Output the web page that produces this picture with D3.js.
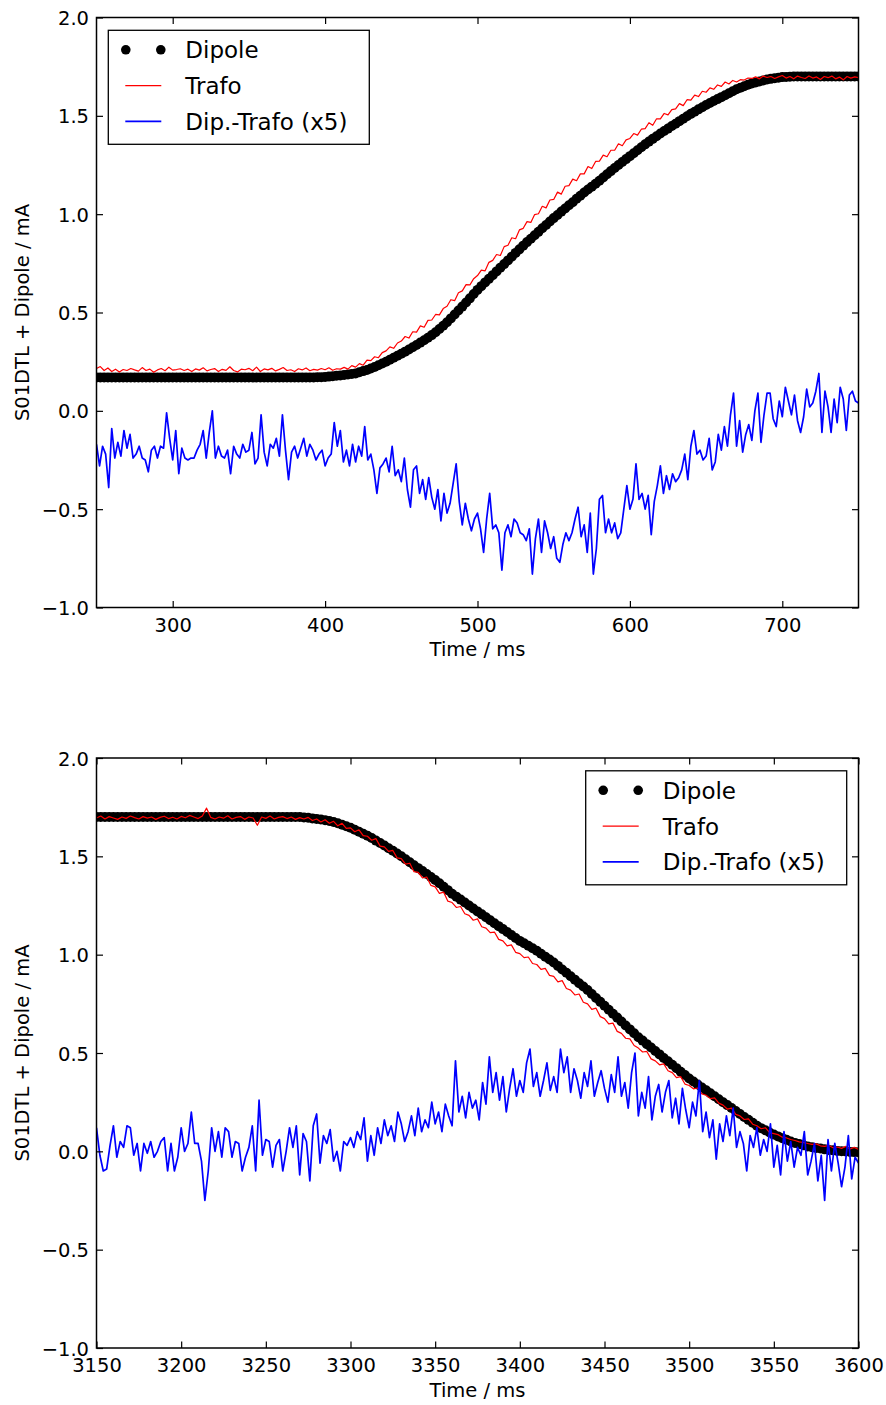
<!DOCTYPE html>
<html><head><meta charset="utf-8">
<script src="https://cdn.jsdelivr.net/npm/d3@7"></script>
<style>html,body{margin:0;padding:0;background:#fff;} text{font-family:"DejaVu Sans",sans-serif;fill:#000;}</style>
</head><body><svg id="c" width="886" height="1405"></svg>
<script>
// ---------- tick labels / categories ----------
const yTicks = [-1.0, -0.5, 0.0, 0.5, 1.0, 1.5, 2.0];
const topXTicks = [300, 400, 500, 600, 700];
const botXTicks = [3150, 3200, 3250, 3300, 3350, 3400, 3450, 3500, 3550, 3600];
const seriesNames = ["Dipole", "Trafo", "Dip.-Trafo (x5)"];
const xLabel = "Time / ms";
const yLabel = "S01DTL + Dipole / mA";

// ---------- top panel (250–750 ms) ----------
const topStart = 250, topEnd = 750;
const topSmoothStep = 2.5; // Dipole & Trafo sampled every 2.5 ms
const topDiffStep = 2;     // Dip.-Trafo sampled every 2 ms
const topDipole = [
0.170,0.170,0.170,0.170,0.170,0.170,0.170,0.170,0.170,0.170,0.170,0.170,0.170,0.170,0.170,0.170,0.170,0.170,0.170,0.170,
0.170,0.170,0.170,0.170,0.170,0.170,0.170,0.170,0.170,0.170,0.170,0.170,0.170,0.170,0.170,0.170,0.170,0.170,0.170,0.170,
0.170,0.170,0.170,0.170,0.170,0.170,0.170,0.170,0.170,0.170,0.170,0.170,0.170,0.170,0.170,0.170,0.170,0.170,0.171,0.171,0.172,
0.174,0.176,0.178,0.180, 0.182,0.185,0.187,0.190, 0.196,0.202,0.208,0.215, 0.223,0.232,0.241,0.250,
0.260,0.270,0.280,0.290, 0.301,0.312,0.323,0.335, 0.347,0.359,0.372,0.385, 0.400,0.416,0.433,0.450,
0.470,0.490,0.510,0.530, 0.551,0.572,0.594,0.615, 0.634,0.653,0.671,0.690, 0.709,0.728,0.746,0.765,
0.784,0.803,0.821,0.840, 0.858,0.875,0.893,0.910, 0.928,0.945,0.963,0.980, 0.996,1.013,1.029,1.045,
1.061,1.078,1.094,1.110, 1.125,1.140,1.155,1.170, 1.186,1.203,1.219,1.235, 1.250,1.265,1.280,1.295,
1.310,1.325,1.340,1.355, 1.369,1.383,1.396,1.410, 1.423,1.435,1.448,1.460, 1.473,1.485,1.498,1.510,
1.521,1.533,1.544,1.555, 1.565,1.575,1.585,1.595, 1.605,1.615,1.625,1.635, 1.643,1.650,1.658,1.665,
1.670,1.675,1.680,1.685, 1.688,1.691,1.694,1.697, 1.698,1.699,1.700,1.700,
1.700,1.700,1.700,1.700,1.700,1.700,1.700,1.700,1.700,1.700,1.700,1.700,1.700,1.700,1.700,1.700
];
const topTrafo = [
0.215,
0.225,0.205,0.218,0.200, 0.212,0.198,0.210,0.205, 0.215,0.208,0.202,0.220, 0.205,0.212,0.196,0.208,
0.215,0.204,0.222,0.207, 0.210,0.214,0.205,0.212, 0.200,0.213,0.207,0.219, 0.203,0.210,0.215,0.200,
0.211,0.206,0.224,0.205, 0.198,0.212,0.209,0.216, 0.204,0.222,0.200,0.213, 0.208,0.216,0.203,0.211,
0.220,0.205,0.209,0.200, 0.214,0.208,0.218,0.204, 0.211,0.207,0.215,0.209, 0.219,0.206,0.214,0.212,
0.221,0.212,0.230,0.222, 0.240,0.232,0.258,0.255, 0.275,0.270,0.296,0.305, 0.325,0.318,0.345,0.355,
0.378,0.370,0.402,0.400, 0.432,0.425,0.460,0.462, 0.490,0.488,0.520,0.532, 0.565,0.560,0.600,0.610,
0.642,0.640,0.672,0.688, 0.715,0.712,0.755,0.765, 0.795,0.790,0.835,0.842, 0.880,0.875,0.920,0.928,
0.962,0.958,0.998,1.002, 1.040,1.032,1.072,1.075, 1.112,1.102,1.142,1.145, 1.178,1.170,1.205,1.205,
1.242,1.232,1.268,1.270, 1.300,1.292,1.325,1.325, 1.358,1.348,1.378,1.385, 1.410,1.402,1.432,1.435,
1.465,1.452,1.485,1.485, 1.512,1.505,1.532,1.535, 1.562,1.552,1.582,1.580, 1.605,1.598,1.625,1.620,
1.642,1.635,1.657,1.650, 1.672,1.662,1.680,1.672, 1.684,1.682,1.692,1.690, 1.698,1.688,1.702,1.695,
1.700,1.690,1.698,1.705, 1.692,1.700,1.688,1.702, 1.695,1.690,1.703,1.692, 1.698,1.685,1.700,1.694,
1.702,1.688,1.697,1.683, 1.700,1.692,1.698,1.694
];
const topDiff = [
-0.17,-0.28,-0.18,-0.22,-0.39,-0.09,-0.24,-0.16,-0.23,-0.10,
-0.19,-0.12,-0.24,-0.22,-0.18,-0.24,-0.25,-0.31,-0.20,-0.18,
-0.24,-0.18,-0.19,-0.01,-0.14,-0.25,-0.10,-0.32,-0.19,-0.24,
-0.25,-0.24,-0.24,-0.20,-0.17,-0.10,-0.24,-0.11,0.00,-0.24,
-0.18,-0.23,-0.24,-0.20,-0.32,-0.18,-0.22,-0.24,-0.17,-0.21,
-0.20,-0.11,-0.27,-0.24,-0.02,-0.21,-0.28,-0.17,-0.19,-0.14,
-0.23,-0.02,-0.20,-0.35,-0.21,-0.18,-0.24,-0.19,-0.14,-0.23,
-0.17,-0.20,-0.25,-0.22,-0.20,-0.28,-0.24,-0.22,-0.06,-0.18,
-0.10,-0.26,-0.20,-0.28,-0.17,-0.26,-0.18,-0.23,-0.08,-0.25,
-0.22,-0.30,-0.42,-0.29,-0.27,-0.24,-0.31,-0.18,-0.33,-0.30,
-0.36,-0.24,-0.40,-0.49,-0.30,-0.28,-0.42,-0.35,-0.45,-0.34,
-0.44,-0.50,-0.40,-0.56,-0.42,-0.52,-0.47,-0.37,-0.27,-0.46,
-0.58,-0.47,-0.55,-0.61,-0.55,-0.52,-0.60,-0.72,-0.55,-0.42,
-0.60,-0.58,-0.62,-0.81,-0.62,-0.58,-0.64,-0.55,-0.57,-0.62,
-0.63,-0.66,-0.60,-0.83,-0.65,-0.55,-0.72,-0.56,-0.62,-0.70,
-0.64,-0.75,-0.77,-0.68,-0.62,-0.66,-0.62,-0.55,-0.49,-0.64,
-0.58,-0.72,-0.52,-0.83,-0.70,-0.45,-0.43,-0.62,-0.55,-0.62,
-0.57,-0.65,-0.62,-0.50,-0.38,-0.50,-0.45,-0.27,-0.45,-0.42,
-0.50,-0.43,-0.63,-0.46,-0.38,-0.28,-0.42,-0.33,-0.40,-0.32,
-0.36,-0.34,-0.30,-0.22,-0.35,-0.18,-0.10,-0.22,-0.20,-0.25,
-0.23,-0.14,-0.30,-0.26,-0.12,-0.20,-0.08,-0.18,-0.02,0.09,
-0.18,-0.05,-0.21,-0.12,-0.07,-0.15,0.00,0.09,-0.16,-0.02,
0.09,0.09,-0.04,-0.08,0.05,-0.03,0.12,0.05,-0.02,0.08,
-0.05,-0.11,-0.03,0.11,0.02,0.04,0.10,0.19,-0.11,0.10,
0.02,-0.11,0.06,-0.06,0.12,0.06,-0.10,0.08,0.10,0.05,0.04
];

// ---------- bottom panel (3150–3600 ms) ----------
const botStart = 3150, botEnd = 3600;
const botSmoothStep = 2.5;
const botDiffStep = 2;
const botDipole = [
1.700,1.700,1.700,1.700,1.700,1.700,1.700,1.700,1.700,1.700,1.700,1.700,1.700,1.700,1.700,1.700,1.700,
1.700,1.700,1.700,1.700,1.700,1.700,1.700,1.700,1.700,1.700,1.700,1.700,1.700,1.700,1.700,1.700,
1.700,1.700,1.700,1.700,1.700,1.700,1.700,1.700,1.700,1.700,1.700,1.700,1.700,1.700,1.700,1.700,
1.698,1.696,1.693,1.690, 1.687,1.684,1.680,1.675, 1.668,1.661,1.653,1.645, 1.635,1.625,1.615,1.605,
1.593,1.580,1.568,1.555, 1.541,1.528,1.514,1.500, 1.485,1.470,1.455,1.440, 1.425,1.410,1.395,1.380,
1.363,1.345,1.328,1.310, 1.295,1.280,1.265,1.250, 1.235,1.220,1.205,1.190, 1.175,1.160,1.145,1.130,
1.115,1.100,1.085,1.070, 1.058,1.045,1.033,1.020, 1.005,0.990,0.975,0.960, 0.943,0.925,0.908,0.890,
0.873,0.855,0.838,0.820, 0.800,0.780,0.760,0.740, 0.720,0.700,0.680,0.660, 0.640,0.620,0.600,0.580,
0.563,0.545,0.528,0.510, 0.493,0.475,0.458,0.440, 0.423,0.405,0.388,0.370, 0.355,0.340,0.325,0.310,
0.295,0.280,0.265,0.250, 0.235,0.220,0.205,0.190, 0.175,0.160,0.145,0.130, 0.118,0.107,0.096,0.085,
0.076,0.067,0.059,0.050, 0.043,0.037,0.031,0.025, 0.021,0.017,0.014,0.010, 0.007,0.005,0.002,0.000,
-0.001,-0.003,-0.004,-0.005
];
const botTrafo = [
1.695,
1.705,1.690,1.702,1.695, 1.688,1.700,1.693,1.705, 1.697,1.690,1.702,1.694, 1.700,1.688,1.698,1.704,
1.692,1.699,1.690,1.703, 1.696,1.708,1.700,1.692, 1.705,1.745,1.698,1.690, 1.700,1.694,1.706,1.690,
1.698,1.702,1.688,1.700, 1.695,1.658,1.700,1.693, 1.705,1.690,1.698,1.702, 1.692,1.700,1.688,1.697,
1.690,1.698,1.682,1.690, 1.675,1.686,1.668,1.678, 1.655,1.668,1.642,1.645, 1.625,1.635,1.605,1.602,
1.582,1.590,1.552,1.548, 1.525,1.530,1.492,1.488, 1.460,1.465,1.422,1.418, 1.390,1.395,1.352,1.345,
1.312,1.318,1.272,1.265, 1.240,1.245,1.208,1.200, 1.175,1.182,1.142,1.135, 1.112,1.115,1.078,1.070,
1.045,1.050,1.012,1.005, 0.985,0.988,0.955,0.950, 0.925,0.930,0.895,0.890, 0.862,0.868,0.828,0.820,
0.795,0.800,0.758,0.750, 0.722,0.728,0.685,0.675, 0.648,0.652,0.610,0.600, 0.575,0.572,0.538,0.525,
0.505,0.508,0.470,0.460, 0.440,0.445,0.410,0.400, 0.375,0.380,0.342,0.335, 0.318,0.322,0.292,0.285,
0.268,0.272,0.245,0.235, 0.215,0.220,0.188,0.180, 0.162,0.165,0.138,0.130, 0.115,0.120,0.095,0.090,
0.085,0.072,0.068,0.060, 0.055,0.048,0.045,0.040, 0.035,0.038,0.028,0.025, 0.030,0.018,0.022,0.015,
0.025,0.012,0.020,0.010
];
const botDiff = [
0.12,-0.02,-0.10,-0.09,0.03,0.13,-0.03,0.05,0.02,0.13,
0.12,-0.02,0.04,-0.10,0.04,-0.01,0.05,-0.03,0.00,0.05,
0.07,-0.10,0.04,-0.10,-0.03,0.12,0.00,0.04,0.20,0.04,
0.04,-0.05,-0.25,-0.10,0.12,0.00,0.10,-0.03,0.12,0.10,
-0.03,0.05,0.04,-0.10,-0.03,0.02,0.13,-0.10,0.26,-0.02,
0.06,0.05,-0.08,0.03,0.06,-0.10,0.00,0.12,0.02,0.13,
-0.12,0.09,0.05,-0.15,0.13,0.19,-0.06,0.08,0.04,0.11,
-0.05,0.00,-0.10,0.05,0.03,0.07,0.02,0.10,0.06,0.17,
-0.05,0.08,-0.02,0.12,0.04,0.16,0.08,0.13,0.05,0.20,
0.14,0.05,0.10,0.18,0.08,0.22,0.10,0.16,0.12,0.25,
0.14,0.20,0.10,0.24,0.18,0.13,0.46,0.20,0.28,0.17,
0.30,0.22,0.26,0.16,0.35,0.24,0.48,0.30,0.40,0.26,
0.38,0.20,0.32,0.42,0.28,0.36,0.30,0.45,0.52,0.33,
0.40,0.28,0.36,0.45,0.31,0.38,0.30,0.52,0.40,0.48,
0.30,0.42,0.36,0.27,0.40,0.33,0.46,0.28,0.35,0.41,
0.32,0.25,0.39,0.30,0.48,0.28,0.35,0.22,0.40,0.50,
0.18,0.30,0.22,0.38,0.16,0.28,0.34,0.20,0.30,0.36,
0.17,0.27,0.14,0.32,0.21,0.12,0.25,0.18,0.36,0.10,
0.20,0.07,0.16,-0.04,0.14,0.05,0.18,0.08,0.22,0.02,
0.10,0.04,-0.10,0.08,0.02,0.12,-0.02,0.06,0.00,0.14,
-0.08,0.03,-0.12,0.10,-0.05,0.05,-0.08,0.02,-0.02,0.10,
-0.12,-0.05,0.04,-0.15,-0.02,-0.25,0.06,-0.10,0.04,-0.06,
-0.18,-0.08,0.08,-0.14,-0.03,-0.06
];

// ---------- drawing ----------
const svg = d3.select("#c");
const FS = 19.5, LFS = 23;
const toPts = (arr, t0, step) => arr.map((v, i) => [t0 + i * step, v]);

const panels = [
  {id:"top", x0:topStart, x1:topEnd, xTicks:topXTicks, left:96.5, right:858.5, top:17.5, bottom:607.5,
   dip:toPts(topDipole, topStart, topSmoothStep), tra:toPts(topTrafo, topStart, topSmoothStep),
   diff:toPts(topDiff, topStart, topDiffStep), legend:"left"},
  {id:"bot", x0:botStart, x1:botEnd, xTicks:botXTicks, left:96.5, right:858.5, top:758, bottom:1348,
   dip:toPts(botDipole, botStart, botSmoothStep), tra:toPts(botTrafo, botStart, botSmoothStep),
   diff:toPts(botDiff, botStart, botDiffStep), legend:"right"}
];

panels.forEach(p => {
  const x = d3.scaleLinear().domain([p.x0, p.x1]).range([p.left, p.right]);
  const y = d3.scaleLinear().domain([-1, 2]).range([p.bottom, p.top]);
  const g = svg.append("g");
  const clipId = "clip-" + p.id;
  g.append("clipPath").attr("id", clipId).append("rect")
    .attr("x", p.left).attr("y", p.top).attr("width", p.right - p.left).attr("height", p.bottom - p.top);
  const data = g.append("g").attr("clip-path", `url(#${clipId})`);
  data.selectAll("circle").data(p.dip).join("circle")
    .attr("cx", d => x(d[0])).attr("cy", d => y(d[1])).attr("r", 5).attr("fill", "#000");
  const line = d3.line().x(d => x(d[0])).y(d => y(d[1]));
  data.append("path").datum(p.tra).attr("d", line).attr("fill", "none")
    .attr("stroke", "#ff0000").attr("stroke-width", 1.2).attr("stroke-linejoin", "round");
  data.append("path").datum(p.diff).attr("d", line).attr("fill", "none")
    .attr("stroke", "#0000ff").attr("stroke-width", 1.7).attr("stroke-linejoin", "round");

  // axes (inward ticks on all sides)
  const tk = 6.5;
  const styleAxis = sel => { sel.select(".domain").remove();
    sel.selectAll(".tick line").attr("stroke", "#000").attr("stroke-width", 1.2);
    sel.selectAll("text").style("font-family", '"DejaVu Sans", sans-serif').attr("font-size", FS).attr("fill", "#000"); };
  const ax = g.append("g").attr("transform", `translate(0,${p.bottom})`)
    .call(d3.axisBottom(x).tickValues(p.xTicks).tickSize(-tk).tickFormat(d3.format("d")));
  styleAxis(ax);
  ax.selectAll("text").attr("y", 24).attr("dy", null);
  const axT = g.append("g").attr("transform", `translate(0,${p.top})`)
    .call(d3.axisTop(x).tickValues(p.xTicks).tickSize(-tk).tickFormat(""));
  styleAxis(axT);
  const ay = g.append("g").attr("transform", `translate(${p.left},0)`)
    .call(d3.axisLeft(y).tickValues(yTicks).tickSize(-tk).tickFormat(d3.format(".1f")));
  styleAxis(ay);
  ay.selectAll("text").attr("x", -7.5).attr("dy", null).attr("y", 7).attr("text-anchor", "end");
  const ayR = g.append("g").attr("transform", `translate(${p.right},0)`)
    .call(d3.axisRight(y).tickValues(yTicks).tickSize(-tk).tickFormat(""));
  styleAxis(ayR);

  // frame
  g.append("rect").attr("x", p.left).attr("y", p.top).attr("width", p.right - p.left)
    .attr("height", p.bottom - p.top).attr("fill", "none").attr("stroke", "#000").attr("stroke-width", 1.5);

  // axis labels
  g.append("text").attr("x", (p.left + p.right) / 2).attr("y", p.bottom + 48.5)
    .attr("text-anchor", "middle").attr("font-size", FS).text(xLabel);
  g.append("text").attr("transform", `translate(29,${(p.top + p.bottom) / 2}) rotate(-90)`)
    .attr("text-anchor", "middle").attr("font-size", FS).text(yLabel);

  // legend
  const LW = 261, LH = 114;
  const lx = p.legend === "left" ? p.left + 11.8 : p.right - 11.8 - LW;
  const ly = p.top + 12.8;
  const lg = g.append("g").attr("transform", `translate(${lx},${ly})`);
  lg.append("rect").attr("width", LW).attr("height", LH).attr("fill", "#fff")
    .attr("stroke", "#000").attr("stroke-width", 1.3);
  const rows = [19.5, 55.3, 91];
  [17.5, 52.5].forEach(cx => lg.append("circle").attr("cx", cx).attr("cy", rows[0]).attr("r", 4.8).attr("fill", "#000"));
  lg.append("line").attr("x1", 17).attr("x2", 53).attr("y1", rows[1]).attr("y2", rows[1]).attr("stroke", "#ff0000").attr("stroke-width", 1.2);
  lg.append("line").attr("x1", 17).attr("x2", 53).attr("y1", rows[2]).attr("y2", rows[2]).attr("stroke", "#0000ff").attr("stroke-width", 1.7);
  seriesNames.forEach((n, i) => lg.append("text").attr("x", 77).attr("y", rows[i] + 8.6)
    .attr("font-size", LFS).text(n));
});
</script>
</body></html>
